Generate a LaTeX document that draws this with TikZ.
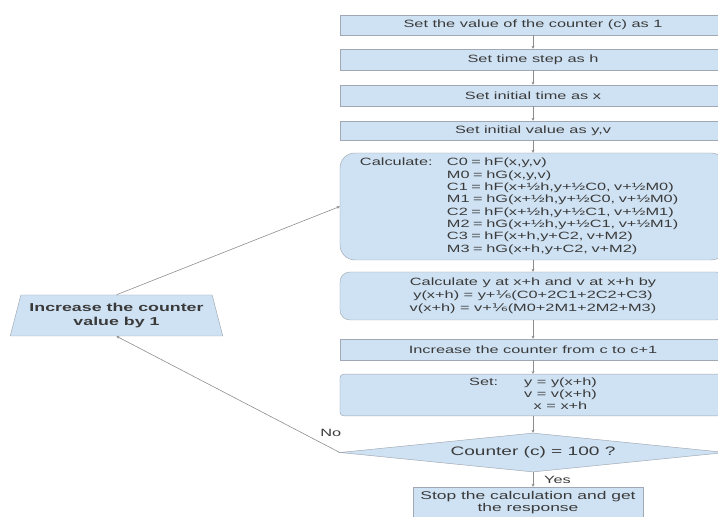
\documentclass[tikz,border=0pt]{standalone}
\usepackage{fontspec}
\setmainfont{Liberation Sans}[FakeStretch=1.55]
\newfontfamily\fracfont{DejaVu Sans}[FakeStretch=1.55]
\newcommand\sixth{{\fracfont ⅙}}
\usepackage{xcolor}
\definecolor{Box}{HTML}{CFE2F3}
\definecolor{Edge}{HTML}{9FA8B3}
\definecolor{Ink}{HTML}{3A3A3A}
\definecolor{Wire}{HTML}{8C8C8C}
\usepackage{tikz}
\usetikzlibrary{arrows.meta,shapes.geometric}

\begin{document}
\begin{tikzpicture}[x=0.03cm,y=-0.03cm,
  stepbox/.style={draw=Edge,fill=Box,text=Ink,minimum width=11.58cm,inner sep=2pt,align=center,font=\fontsize{9}{10.5}\selectfont},
  link/.style={draw=Wire,line width=0.5pt,-{Stealth[length=2.5pt,width=2.5pt]}},
  tag/.style={text=Ink,font=\fontsize{9}{10.5}\selectfont}]
\useasboundingbox (0,0) rectangle (718,517);
\node[stepbox,minimum height=0.6cm] (count) at (533,25) {Set the value of the counter (c) as 1};
\node[stepbox,minimum height=0.63cm] (hstep) at (533,59.5) {Set time step as h};
\node[stepbox,minimum height=0.63cm] (xinit) at (533,95.5) {Set initial time as x};
\node[stepbox,minimum height=0.57cm] (yinit) at (533,130.5) {Set initial value as y,v};
\node[stepbox,rounded corners=0.45cm,minimum height=3.21cm,text width=10.38cm,align=left] (calc) at (533,206.5) {%
  \begin{tabular}{@{}p{2.61cm}@{}l@{}}
  Calculate: & C0 = hF(x,y,v)\\
  & M0 = hG(x,y,v)\\
  & C1 = hF(x+½h,y+½C0, v+½M0)\\
  & M1 = hG(x+½h,y+½C0, v+½M0)\\
  & C2 = hF(x+½h,y+½C1, v+½M1)\\
  & M2 = hG(x+½h,y+½C1, v+½M1)\\
  & C3 = hF(x+h,y+C2, v+M2)\\
  & M3 = hG(x+h,y+C2, v+M2)
  \end{tabular}};
\node[stepbox,rounded corners=0.3cm,minimum height=1.44cm,font=\fontsize{9}{11}\selectfont] (update) at (533,296)
  {Calculate y at x+h and v at x+h by\\y(x+h) = y+\sixth(C0+2C1+2C2+C3)\\v(x+h) = v+\sixth(M0+2M1+2M2+M3)};
\node[stepbox,minimum height=0.63cm] (incr) at (533,349.5) {Increase the counter from c to c+1};
\node[stepbox,rounded corners=3pt,minimum height=1.2cm] (setv) at (533,395) {%
  \begin{tabular}{@{}l@{\hspace{0.78cm}}c@{}}
  Set: & y = y(x+h)\\
  & v = v(x+h)\\
  & x = x+h
  \end{tabular}};
\node[diamond,aspect=10,draw=Edge,fill=Box,text=Ink,inner sep=0pt,minimum width=11.58cm,minimum height=1.17cm,font=\fontsize{10.5}{12}\selectfont] (check) at (533,452.5) {Counter (c) = 100 ?};
\node[stepbox,minimum width=6.9cm,minimum height=0.93cm,font=\fontsize{9.6}{10.2}\selectfont] (stop) at (528,502.5) {Stop the calculation and get\\the response};
\node[trapezium,trapezium stretches=true,trapezium left angle=73,trapezium right angle=73,draw=Edge,fill=Box,text=Ink,minimum width=6.39cm,minimum height=1.23cm,align=center,font=\fontsize{9.8}{12.5}\selectfont\bfseries] (bump) at (116.5,315.5) {Increase the counter\\value by 1};
\foreach \a/\b in {count/hstep,hstep/xinit,xinit/yinit,yinit/calc,calc/update,update/incr,incr/setv,setv/check}
  \draw[link] (\a) -- (\b);
\draw[link] (check.south) -- (check.south |- stop.north) node[tag,midway,right,xshift=6pt] {Yes};
\draw[link] (check.west) -- (bump.south) node[tag,pos=0.04,above=6pt] {No};
\draw[link] (bump.north) -- (calc.west);
\end{tikzpicture}
\end{document}
